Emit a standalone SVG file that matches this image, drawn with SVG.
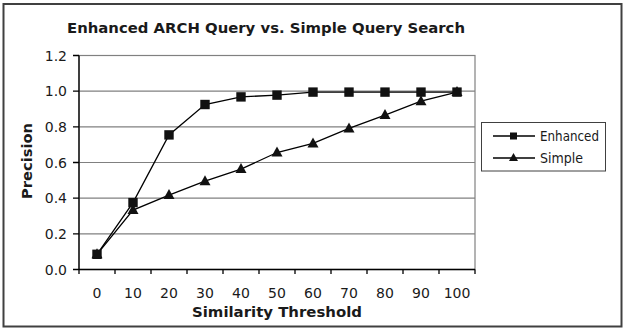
<svg xmlns="http://www.w3.org/2000/svg" width="623" height="328" viewBox="0 0 623 328">
<style>
  text { font-family: "DejaVu Sans", Verdana, sans-serif; fill: #1a1a1a; }
  .lbl { font-size: 14px; }
  .ttl { font-size: 14px; font-weight: bold; }
  .grid { stroke: #808080; stroke-width: 1.2; fill: none; }
  .axis { stroke: #000; stroke-width: 1.3; fill: none; }
  .series { stroke: #000; stroke-width: 1.3; fill: none; }
  .mk { fill: #111; }
</style>
<defs>
  <rect id="sq" x="-4.7" y="-4.7" width="9.4" height="9.4" class="mk"/>
  <polygon id="tri" points="0,-6 -5.5,4 5.5,4" class="mk"/>
</defs>
<rect x="0" y="0" width="623" height="328" fill="#fff"/>
<rect x="3.5" y="4" width="618" height="322.5" fill="#fff" stroke="#404040" stroke-width="2"/>

<g id="title">
  <text class="ttl" x="266" y="33" text-anchor="middle" textLength="398" lengthAdjust="spacingAndGlyphs">Enhanced ARCH Query vs. Simple Query Search</text>
</g>

<g id="plot-area">
  <rect x="79" y="55.5" width="396" height="214" fill="#fff" stroke="#808080" stroke-width="1.2"/>
  <line class="grid" x1="79" y1="233.8" x2="475" y2="233.8"/>
  <line class="grid" x1="79" y1="198.2" x2="475" y2="198.2"/>
  <line class="grid" x1="79" y1="162.5" x2="475" y2="162.5"/>
  <line class="grid" x1="79" y1="126.8" x2="475" y2="126.8"/>
  <line class="grid" x1="79" y1="91.2" x2="475" y2="91.2"/>
</g>

<g id="y-axis">
  <line class="axis" x1="79" y1="55.5" x2="79" y2="269.5"/>
  <path class="axis" d="M73 269.5H79M73 233.8H79M73 198.2H79M73 162.5H79M73 126.8H79M73 91.2H79M73 55.5H79"/>
  <text class="lbl" x="67" y="274.5" text-anchor="end">0.0</text>
  <text class="lbl" x="67" y="238.8" text-anchor="end">0.2</text>
  <text class="lbl" x="67" y="203.2" text-anchor="end">0.4</text>
  <text class="lbl" x="67" y="167.5" text-anchor="end">0.6</text>
  <text class="lbl" x="67" y="131.8" text-anchor="end">0.8</text>
  <text class="lbl" x="67" y="96.2" text-anchor="end">1.0</text>
  <text class="lbl" x="67" y="60.5" text-anchor="end">1.2</text>
  <text class="ttl" transform="translate(32 161) rotate(-90)" text-anchor="middle" textLength="76" lengthAdjust="spacingAndGlyphs">Precision</text>
</g>

<g id="x-axis">
  <line class="axis" x1="79" y1="269.5" x2="475" y2="269.5"/>
  <path class="axis" d="M79 269.5V274M115 269.5V274M151 269.5V274M187 269.5V274M223 269.5V274M259 269.5V274M295 269.5V274M331 269.5V274M367 269.5V274M403 269.5V274M439 269.5V274M475 269.5V274"/>
  <g class="lbl" text-anchor="middle">
    <text class="lbl" x="97" y="298">0</text>
    <text class="lbl" x="133" y="298">10</text>
    <text class="lbl" x="169" y="298">20</text>
    <text class="lbl" x="205" y="298">30</text>
    <text class="lbl" x="241" y="298">40</text>
    <text class="lbl" x="277" y="298">50</text>
    <text class="lbl" x="313" y="298">60</text>
    <text class="lbl" x="349" y="298">70</text>
    <text class="lbl" x="385" y="298">80</text>
    <text class="lbl" x="421" y="298">90</text>
    <text class="lbl" x="457" y="298">100</text>
  </g>
  <text class="ttl" x="277" y="317" text-anchor="middle" textLength="170" lengthAdjust="spacingAndGlyphs">Similarity Threshold</text>
</g>

<g id="connectors">
  <polyline id="enhanced-line" class="series" points="97,254.3 133,202.6 169,134.9 205,104.5 241,96.9 277,95.1 313,92.1 349,92.1 385,92.1 421,92.1 457,92.1"/>
  <polyline id="simple-line" class="series" points="97,254.3 133,210.1 169,195.1 205,181.2 241,169.1 277,152.5 313,143.4 349,128.4 385,115.1 421,101.2 457,92.1"/>
</g>

<g id="simple-markers">
  <use href="#tri" x="97" y="254.3"/>
  <use href="#tri" x="133" y="210.1"/>
  <use href="#tri" x="169" y="195.1"/>
  <use href="#tri" x="205" y="181.2"/>
  <use href="#tri" x="241" y="169.1"/>
  <use href="#tri" x="277" y="152.5"/>
  <use href="#tri" x="313" y="143.4"/>
  <use href="#tri" x="349" y="128.4"/>
  <use href="#tri" x="385" y="115.1"/>
  <use href="#tri" x="421" y="101.2"/>
  <use href="#tri" x="457" y="92.1"/>
</g>

<g id="enhanced-markers">
  <use href="#sq" x="97" y="254.3"/>
  <use href="#sq" x="133" y="202.6"/>
  <use href="#sq" x="169" y="134.9"/>
  <use href="#sq" x="205" y="104.5"/>
  <use href="#sq" x="241" y="96.9"/>
  <use href="#sq" x="277" y="95.1"/>
  <use href="#sq" x="313" y="92.1"/>
  <use href="#sq" x="349" y="92.1"/>
  <use href="#sq" x="385" y="92.1"/>
  <use href="#sq" x="421" y="92.1"/>
  <use href="#sq" x="457" y="92.1"/>
</g>

<g id="legend">
  <rect x="481.5" y="122.5" width="124" height="48.5" fill="#fff" stroke="#404040" stroke-width="1"/>
  <line class="series" x1="493" y1="136" x2="535" y2="136"/>
  <rect x="510" y="132.5" width="7" height="7" class="mk"/>
  <text class="lbl" x="540" y="141" textLength="59" lengthAdjust="spacingAndGlyphs">Enhanced</text>
  <line class="series" x1="493" y1="158" x2="535" y2="158"/>
  <polygon points="513.5,153 509,161 518,161" class="mk"/>
  <text class="lbl" x="540" y="163" textLength="43" lengthAdjust="spacingAndGlyphs">Simple</text>
</g>
</svg>
